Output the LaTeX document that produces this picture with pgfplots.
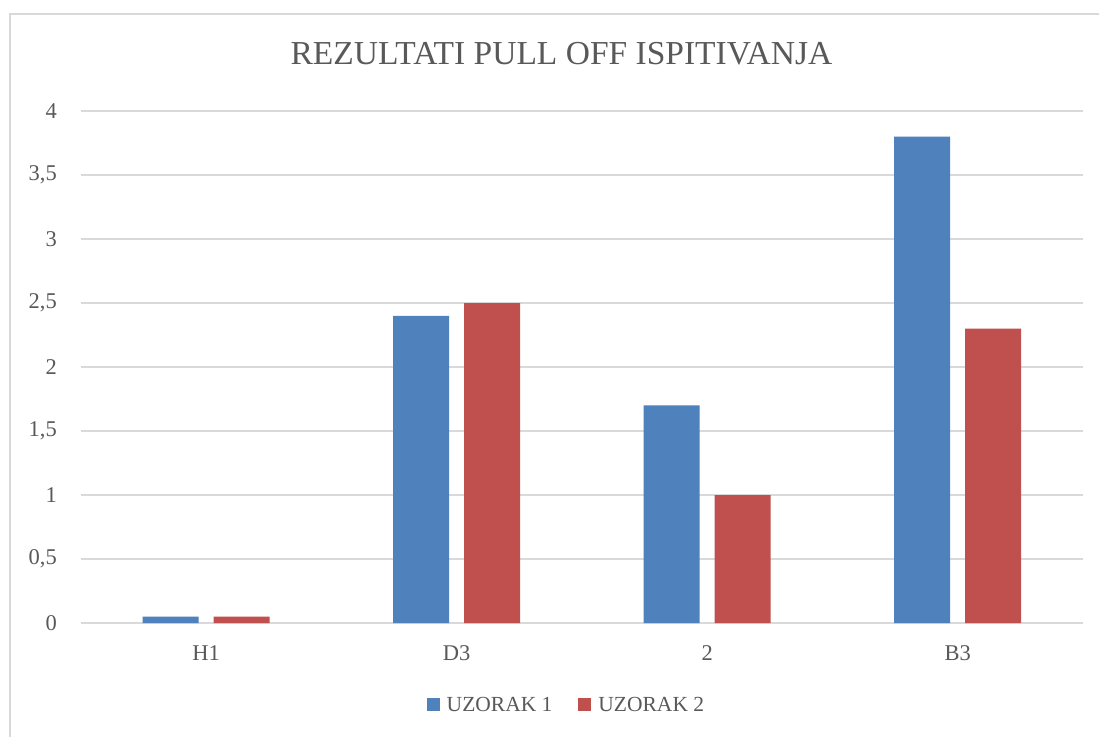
\documentclass[border=0pt]{standalone}
\usepackage{pgfplots}
\pgfplotsset{compat=1.18}
\usepackage{fontspec}
\setmainfont{Liberation Serif}
\definecolor{barblue}{HTML}{4F81BD}
\definecolor{barred}{HTML}{C0504D}
\definecolor{gridgray}{HTML}{D9D9D9}
\definecolor{txtgray}{HTML}{595959}
\begin{document}
\begin{tikzpicture}[x=1pt,y=1pt]
\useasboundingbox (0,-737) rectangle (1099,0);
\fill[white] (0,-737) rectangle (1099,0);
\draw[gridgray, line width=1.3pt] (10,-737) -- (10,-14) -- (1099,-14);
\begin{axis}[
  at={(81pt,-623pt)}, anchor=south west,
  width=1002pt, height=512pt, scale only axis,
  ymin=0, ymax=4, xmin=-0.5, xmax=3.5,
  ytick={0,0.5,1,1.5,2,2.5,3,3.5,4},
  xtick={0,1,2,3}, xticklabels={H1,D3,2,B3},
  /pgf/number format/use comma,
  /pgf/number format/assume math mode=true,
  ybar=15pt, bar width=56pt,
  axis line style={draw=none},
  major tick length=0pt,
  ymajorgrids, grid style={draw=gridgray, line width=1.2pt},
  tick label style={font=\fontsize{22.5}{26}\selectfont, text=txtgray},
  yticklabel style={inner sep=0pt, anchor=east, xshift=-24pt},
  xticklabel style={inner sep=0pt, anchor=north, yshift=-22pt},
  title={REZULTATI PULL OFF ISPITIVANJA},
  title style={font=\fontsize{33.5}{38}\selectfont, text=txtgray, anchor=base, at={(0.4795,1.080)}, inner sep=0pt},
  legend columns=2,
  legend style={draw=none, fill=none, at={(0.4835,-0.160)}, anchor=center,
    font=\fontsize{21.5}{25}\selectfont, text=txtgray, inner sep=0pt,
    nodes={inner sep=0pt, text=txtgray},
    /tikz/every even column/.append style={column sep=26pt},
    /tikz/every odd column/.append style={column sep=7pt}},
  legend image code/.code={\fill[#1, draw=none] (0pt,-6.5pt) rectangle (13pt,6.5pt);},
]
\addplot[fill=barblue, draw=none] coordinates {(0,0.05) (1,2.4) (2,1.7) (3,3.8)};
\addplot[fill=barred, draw=none] coordinates {(0,0.05) (1,2.5) (2,1.0) (3,2.3)};
\legend{UZORAK 1, UZORAK 2}
\end{axis}
\end{tikzpicture}
\end{document}
